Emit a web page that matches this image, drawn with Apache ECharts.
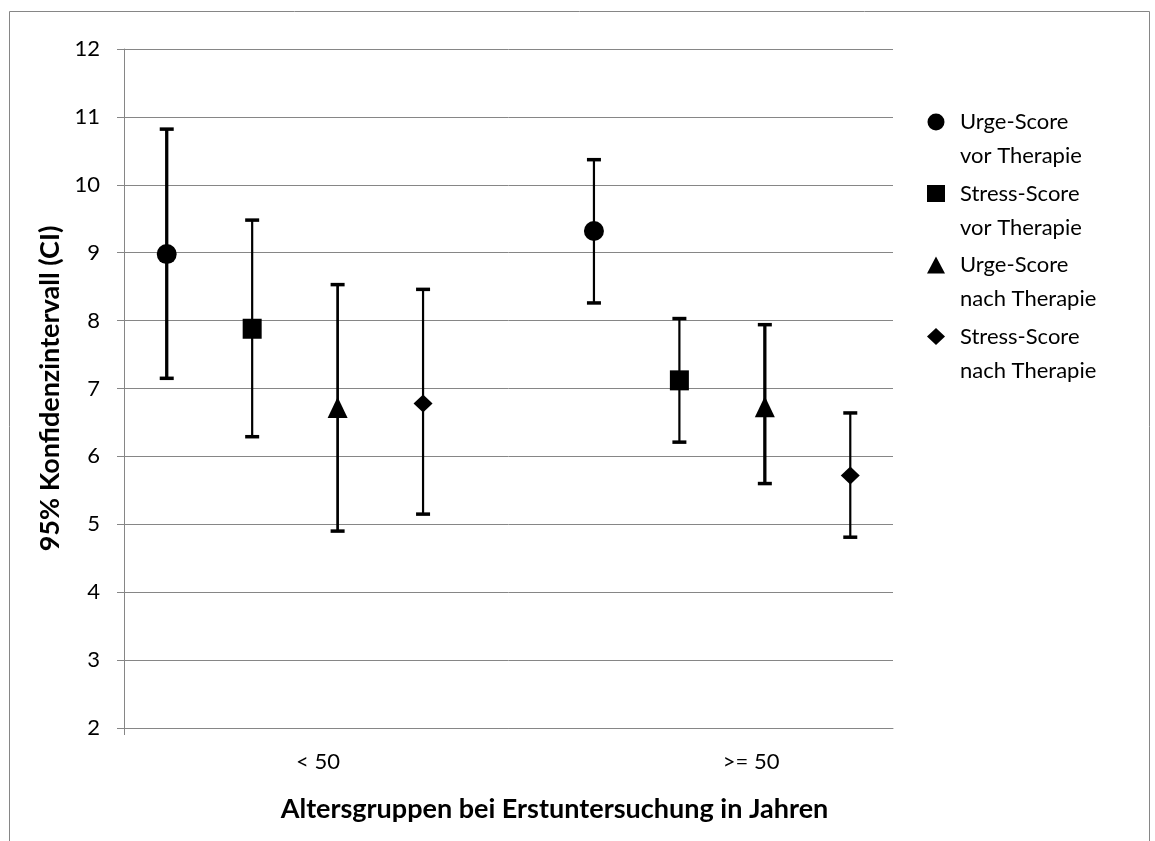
<!DOCTYPE html>
<html>
<head>
<meta charset="utf-8">
<script src="https://cdn.jsdelivr.net/npm/echarts@6/dist/echarts.min.js"></script>
<style>
html,body{margin:0;padding:0;background:#fff;}
#chart{width:1155px;height:841px;}
</style>
</head>
<body>
<div id="chart"></div>
<script>
// ---- data ----
const groups = ['< 50', '>= 50'];
const seriesNames = ['Urge-Score\nvor Therapie', 'Stress-Score\nvor Therapie', 'Urge-Score\nnach Therapie', 'Stress-Score\nnach Therapie'];
const yTicks = [2, 3, 4, 5, 6, 7, 8, 9, 10, 11, 12];

const urgeVorMean   = [8.98, 9.32];
const urgeVorLow    = [7.15, 8.26];
const urgeVorHigh   = [10.82, 10.37];

const stressVorMean = [7.88, 7.12];
const stressVorLow  = [6.29, 6.21];
const stressVorHigh = [9.48, 8.03];

const urgeNachMean  = [6.72, 6.73];
const urgeNachLow   = [4.90, 5.60];
const urgeNachHigh  = [8.53, 7.94];

const stressNachMean = [6.78, 5.72];
const stressNachLow  = [5.15, 4.81];
const stressNachHigh = [8.46, 6.64];

// ---- layout / style constants ----
const means = [urgeVorMean, stressVorMean, urgeNachMean, stressNachMean];
const lows  = [urgeVorLow, stressVorLow, urgeNachLow, stressNachLow];
const highs = [urgeVorHigh, stressVorHigh, urgeNachHigh, stressNachHigh];
const symbols = ['circle', 'rect', 'triangle', 'diamond'];
const symbolSizes = [[20, 20], [19, 20], [20, 21], [19, 18]];
const legendIconSizes = [[17, 17], [16, 16], [19, 15], [17, 17]];
const stemWidths = [[3.3, 2.2], [2.2, 2.2], [2.7, 3.3], [2.2, 2.2]];
const groupLabelPos = [2.77, 7.84];   // x-axis position of category labels
const slotOf = (g, s) => g * 5 + s + 1; // x slot of a series within a group

const FONT = 'Lato';
const GRAY = '#868686';

const chart = echarts.init(document.getElementById('chart'));

const series = [];
means.forEach((m, s) => {
  const barData = m.map((_, g) => [slotOf(g, s), lows[s][g], highs[s][g]]);
  series.push({
    type: 'custom',
    name: 'err' + s,
    z: 2,
    silent: true,
    data: barData,
    encode: { x: 0, y: [1, 2] },
    renderItem: function (params, api) {
      const x = api.value(0), lo = api.value(1), hi = api.value(2);
      const pLo = api.coord([x, lo]), pHi = api.coord([x, hi]);
      const w = stemWidths[s][params.dataIndex];
      const capW = 7, capT = 3.5;
      return {
        type: 'group',
        children: [
          { type: 'line', shape: { x1: pLo[0], y1: pLo[1], x2: pHi[0], y2: pHi[1] }, style: { stroke: '#000', lineWidth: w } },
          { type: 'line', shape: { x1: pLo[0] - capW, y1: pLo[1], x2: pLo[0] + capW, y2: pLo[1] }, style: { stroke: '#000', lineWidth: capT } },
          { type: 'line', shape: { x1: pHi[0] - capW, y1: pHi[1], x2: pHi[0] + capW, y2: pHi[1] }, style: { stroke: '#000', lineWidth: capT } }
        ]
      };
    }
  });
  series.push({
    type: 'scatter',
    name: seriesNames[s],
    z: 3,
    symbol: symbols[s],
    symbolSize: symbolSizes[s],
    itemStyle: { color: '#000', opacity: 1 },
    data: m.map((v, g) => [slotOf(g, s), v])
  });
});

chart.setOption({
  animation: false,
  backgroundColor: '#fff',
  graphic: [{
    type: 'rect',
    shape: { x: 9.5, y: 11.5, width: 1140, height: 900 },
    style: { fill: 'none', stroke: GRAY, lineWidth: 1 },
    silent: true,
    z: -1
  }],
  grid: {
    left: 124, right: 262, top: 49, bottom: 113,
    outerBoundsMode: 'none', containLabel: false
  },
  legend: {
    orient: 'vertical',
    left: 927,
    top: 71,
    padding: 0,
    itemGap: -30.5,
    itemWidth: 18,
    itemHeight: 17,
    selectedMode: false,
    data: seriesNames.map((n, i) => ({ name: n, icon: symbols[i] })),
    formatter: function (name) { return '\n' + name; },
    itemStyle: { color: '#000' },
    textStyle: {
      fontFamily: FONT, fontSize: 22, color: '#000', lineHeight: 34,
      padding: [0, 0, 0, 10]
    }
  },
  xAxis: {
    type: 'value',
    min: 0.5, max: 9.5,
    name: 'Altersgruppen bei Erstuntersuchung in Jahren',
    nameLocation: 'middle',
    nameGap: 68,
    nameTextStyle: { fontFamily: FONT, fontSize: 27, fontWeight: 'bold', color: '#000', padding: [0, 0, 0, 92] },
    axisLine: { show: true, lineStyle: { color: GRAY, width: 1 } },
    axisTick: { show: true, customValues: [0.5], length: 7, lineStyle: { color: GRAY, width: 1 } },
    splitLine: { show: false },
    axisLabel: {
      customValues: groupLabelPos,
      formatter: function (v) {
        const i = groupLabelPos.findIndex(p => Math.abs(p - v) < 1e-6);
        return i >= 0 ? groups[i] : '';
      },
      margin: 23,
      fontFamily: FONT, fontSize: 22, color: '#000'
    }
  },
  yAxis: {
    type: 'value',
    min: yTicks[0], max: yTicks[yTicks.length - 1], interval: 1,
    name: '95% Konfidenzintervall (CI)',
    nameLocation: 'middle',
    nameGap: 58,
    nameTextStyle: { fontFamily: FONT, fontSize: 27, fontWeight: 'bold', color: '#000', padding: [0, 0, 0, 0] },
    axisLine: { show: true, lineStyle: { color: GRAY, width: 1 } },
    axisTick: { show: true, length: 7, lineStyle: { color: GRAY, width: 1 } },
    splitLine: { show: true, lineStyle: { color: GRAY, width: 1 } },
    axisLabel: { margin: 24, fontFamily: FONT, fontSize: 22, color: '#000' }
  },
  series: series
});
</script>
</body>
</html>
